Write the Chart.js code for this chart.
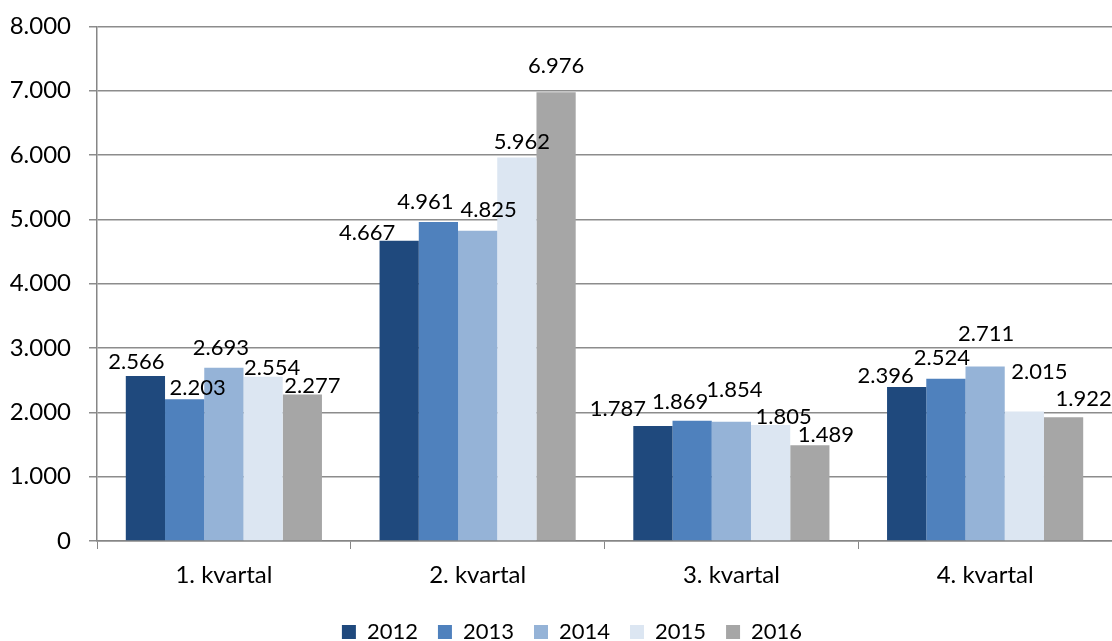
<!DOCTYPE html>
<html>
<head>
<meta charset="utf-8">
<script src="https://cdn.jsdelivr.net/npm/chart.js@4.4.0/dist/chart.umd.min.js"></script>
<style>
html,body{margin:0;padding:0;background:#fff;overflow:hidden;}
#wrap{width:1112px;height:641px;overflow:hidden;}
</style>
</head>
<body>
<div id="wrap"><canvas id="c" width="1112" height="653"></canvas></div>
<script>
const categories = ['1. kvartal', '2. kvartal', '3. kvartal', '4. kvartal'];
const years = ['2012', '2013', '2014', '2015', '2016'];
const v2012 = [2566, 4667, 1787, 2396];
const v2013 = [2203, 4961, 1869, 2524];
const v2014 = [2693, 4825, 1854, 2711];
const v2015 = [2554, 5962, 1805, 2015];
const v2016 = [2277, 6976, 1489, 1922];
const yTicks = [0, 1000, 2000, 3000, 4000, 5000, 6000, 7000, 8000];

const colors = ['#1F497D', '#4F81BD', '#95B3D7', '#DCE6F2', '#A6A6A6'];
const series = [v2012, v2013, v2014, v2015, v2016];

// styling: small [dx, dy] pixel nudges of the value labels (as placed in the original), per year and quarter
const labelNudge = [
  [[-9, 0], [-32, 6], [-35, -3], [-21, 3]],
  [[13, 3], [-13, -6], [-12, -5], [-4, -7]],
  [[-3, -6], [11, -7], [3, -18], [1, -19]],
  [[9, 5], [5, -1], [13, 6], [15, -25]],
  [[10, 5], [0, -12], [16, 4], [20, -4]]
];

function fmt(v) {
  return String(Math.round(v)).replace(/\B(?=(\d{3})+(?!\d))/g, '.');
}

const FONT = 'Lato, "Open Sans", sans-serif';

const labelPlugin = {
  id: 'barLabels',
  afterDatasetsDraw(chart) {
    const ctx = chart.ctx;
    ctx.save();
    ctx.font = '22px ' + FONT;
    ctx.fillStyle = '#000';
    ctx.textAlign = 'center';
    ctx.textBaseline = 'alphabetic';
    chart.data.datasets.forEach((ds, i) => {
      const meta = chart.getDatasetMeta(i);
      meta.data.forEach((bar, j) => {
        const n = (labelNudge[i] && labelNudge[i][j]) || [0, 0];
        ctx.fillText(fmt(ds.data[j]), bar.x + n[0], bar.y - 7 + n[1]);
      });
    });
    ctx.restore();
  }
};

// centre the legend under the plot area rather than the whole canvas
const legendShift = {
  id: 'legendShift',
  afterLayout(chart) {
    const lg = chart.legend;
    if (lg) { lg.left += 16; lg.right += 16; }
  }
};

new Chart(document.getElementById('c'), {
  type: 'bar',
  data: {
    labels: categories,
    datasets: years.map((y, i) => ({
      label: y,
      data: series[i],
      backgroundColor: colors[i],
      borderWidth: 0,
      barPercentage: 1.0,
      categoryPercentage: 0.773
    }))
  },
  options: {
    responsive: false,
    animation: false,
    layout: { padding: { left: 0, top: 0, right: 0, bottom: 0 } },
    plugins: {
      legend: {
        position: 'bottom',
        labels: {
          boxWidth: 14,
          boxHeight: 14,
          padding: 20,
          color: '#000',
          font: { family: FONT, size: 22 }
        }
      },
      tooltip: { enabled: false }
    },
    scales: {
      x: {
        grid: {
          offset: true,
          drawOnChartArea: false,
          drawTicks: true,
          tickLength: 8,
          color: '#868686'
        },
        border: { color: '#868686', width: 1.5 },
        ticks: {
          color: '#000',
          padding: 14,
          font: { family: FONT, size: 24, lineHeight: 1 }
        }
      },
      y: {
        min: 0,
        max: 8000,
        afterBuildTicks(axis) { axis.ticks = yTicks.map(v => ({ value: v })); },
        afterFit(axis) { axis.width = 97; },
        grid: {
          color: '#8c8c8c',
          lineWidth: 1.5,
          tickLength: 8
        },
        border: { color: '#868686', width: 1.5 },
        ticks: {
          color: '#000',
          padding: 18,
          font: { family: FONT, size: 24, lineHeight: 0.7 },
          callback: v => fmt(v)
        }
      }
    }
  },
  plugins: [labelPlugin, legendShift]
});
</script>
</body>
</html>
